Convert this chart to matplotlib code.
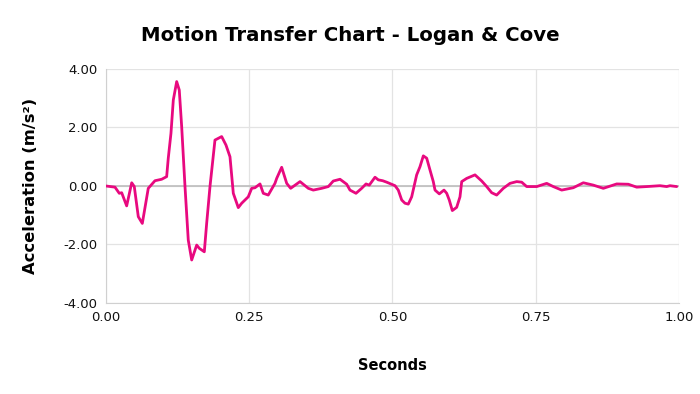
import matplotlib
matplotlib.use("Agg")
import matplotlib.pyplot as plt

# time (s) and acceleration (m/s^2)
seconds = [
    0.000, 0.0157, 0.0232, 0.0274, 0.0361, 0.0449, 0.0494, 0.0564, 0.0634, 0.0738,
    0.0855, 0.0972, 0.1059, 0.1087, 0.1134, 0.1175, 0.1234, 0.1279, 0.1321, 0.1379,
    0.1436, 0.1496, 0.1583, 0.1628, 0.1716, 0.1757, 0.1815, 0.1902, 0.2019, 0.2094,
    0.2164, 0.2222, 0.2309, 0.2368, 0.2483, 0.2543, 0.2600, 0.2688, 0.2745, 0.2832,
    0.2949, 0.2979, 0.3066, 0.3154, 0.3223, 0.3386, 0.3531, 0.3618, 0.3764, 0.3880,
    0.3967, 0.4084, 0.4201, 0.4258, 0.4363, 0.4462, 0.4538, 0.4595, 0.4695, 0.4752,
    0.4829, 0.4899, 0.5044, 0.5101, 0.5161, 0.5218, 0.5276, 0.5335, 0.5422, 0.5480,
    0.5538, 0.5597, 0.5654, 0.5712, 0.5742, 0.5817, 0.5899, 0.5946, 0.5991, 0.6044,
    0.6120, 0.6178, 0.6208, 0.6295, 0.6440, 0.6557, 0.6644, 0.6731, 0.6818, 0.6934,
    0.7051, 0.7168, 0.7255, 0.7342, 0.7517, 0.7691, 0.7806, 0.7953, 0.8155, 0.8330,
    0.8504, 0.8679, 0.8913, 0.9115, 0.9262, 0.9436, 0.9668, 0.9785, 0.9843, 0.9960,
]
accel = [
    0.00, -0.04, -0.25, -0.23, -0.68, 0.11, -0.02, -1.05, -1.28, -0.08,
    0.18, 0.23, 0.32, 0.95, 1.80, 2.94, 3.57, 3.28, 2.03, -0.02,
    -1.85, -2.53, -2.02, -2.13, -2.25, -1.28, -0.02, 1.57, 1.69, 1.40,
    1.00, -0.25, -0.74, -0.59, -0.37, -0.08, -0.06, 0.07, -0.25, -0.31,
    0.09, 0.26, 0.64, 0.09, -0.08, 0.15, -0.08, -0.14, -0.08, -0.02,
    0.17, 0.23, 0.06, -0.14, -0.25, -0.08, 0.07, 0.03, 0.30, 0.21,
    0.18, 0.13, 0.01, -0.14, -0.48, -0.59, -0.62, -0.37, 0.38, 0.66,
    1.03, 0.95, 0.55, 0.15, -0.14, -0.27, -0.14, -0.25, -0.48, -0.84,
    -0.73, -0.37, 0.15, 0.26, 0.38, 0.17, -0.02, -0.23, -0.31, -0.08,
    0.09, 0.15, 0.13, -0.02, -0.02, 0.09, -0.02, -0.14, -0.06, 0.11,
    0.03, -0.08, 0.07, 0.06, -0.04, -0.02, 0.01, -0.02, 0.01, -0.02,
]
xticks = [0.0, 0.25, 0.5, 0.75, 1.0]
yticks = [-4, -2, 0, 2, 4]

plt.rcParams['font.family'] = ['DejaVu Sans']

fig = plt.figure(figsize=(7, 3.94), dpi=100)
ax = fig.add_axes([0.1514, 0.231, 0.8186, 0.5939])

ax.plot(seconds, accel, color='#E8097F', lw=2, solid_joinstyle='round',
        solid_capstyle='round', zorder=3)

ax.set_xlim(0, 1)
ax.set_ylim(-4, 4)
ax.set_xticks(xticks)
ax.set_yticks(yticks)
ax.set_xticklabels([f"{v:.2f}" for v in xticks])
ax.set_yticklabels([f"{v:.2f}" for v in yticks])
ax.tick_params(length=0, labelsize=9.5, pad=6, colors='#111111')

ax.grid(True, color='#E3E3E3', lw=0.9)
ax.axhline(0, color='#BDBDBD', lw=1.2, zorder=2)
for s in ['top', 'right']:
    ax.spines[s].set_visible(False)
for s in ['left', 'bottom']:
    ax.spines[s].set_color('#D0D0D0')

fig.text(0.5, 0.91, "Motion Transfer Chart - Logan & Cove", ha='center', va='center',
         fontsize=14.2, fontweight='bold')
fig.text(0.561, 0.073, "Seconds", ha='center', va='center', fontsize=10.5, fontweight='bold')
fig.text(0.043, 0.528, "Acceleration (m/s²)", ha='center', va='center', rotation=90,
         fontsize=11.8, fontweight='bold')

fig.savefig("out.png", dpi=100)
